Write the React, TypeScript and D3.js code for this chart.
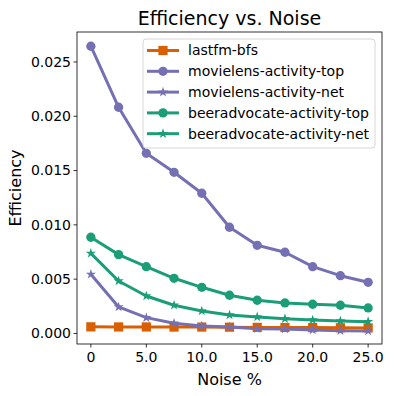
import React from 'react';
import * as d3 from 'd3';

const noise = [0, 2.5, 5, 7.5, 10, 12.5, 15, 17.5, 20, 22.5, 25];

const lastfmBfs = [0.00061, 0.0006, 0.0006, 0.00059, 0.00059, 0.00058, 0.00056, 0.00055, 0.00054, 0.00052, 0.00051];
const movielensTop = [0.02645, 0.02083, 0.01659, 0.01484, 0.01291, 0.00978, 0.00812, 0.00748, 0.00615, 0.00532, 0.00471];
const movielensNet = [0.00545, 0.00244, 0.00146, 0.00094, 0.00069, 0.0006, 0.00044, 0.00041, 0.00032, 0.00026, 0.00023];
const beerTop = [0.00886, 0.00726, 0.00615, 0.00508, 0.00425, 0.00352, 0.00306, 0.00281, 0.00269, 0.0026, 0.00235];
const beerNet = [0.00738, 0.00483, 0.00345, 0.0026, 0.00207, 0.0017, 0.00152, 0.00136, 0.00124, 0.00115, 0.00109];

const xTicks = [0, 5, 10, 15, 20, 25];
const xTickLabels = ['0', '5.0', '10.0', '15.0', '20.0', '25.0'];
const yTicks = [0, 0.005, 0.01, 0.015, 0.02, 0.025];

const series = [
  { name: 'lastfm-bfs', values: lastfmBfs, color: '#d95f02', marker: 'square' },
  { name: 'movielens-activity-top', values: movielensTop, color: '#7570b3', marker: 'circle' },
  { name: 'movielens-activity-net', values: movielensNet, color: '#7570b3', marker: 'star' },
  { name: 'beeradvocate-activity-top', values: beerTop, color: '#1b9e77', marker: 'circle' },
  { name: 'beeradvocate-activity-net', values: beerNet, color: '#1b9e77', marker: 'star' },
];

const font = 'DejaVu Sans, sans-serif';

const symbolPath = (m: string) => {
  if (m === 'square') return d3.symbol(d3.symbolSquare, 85)();
  if (m === 'star') return d3.symbol(d3.symbolStar, 32)();
  return d3.symbol(d3.symbolCircle, 68)();
};

export default function App() {
  const width = 396;
  const height = 396;
  const margin = { top: 32, right: 14, bottom: 52, left: 77 };
  const innerW = width - margin.left - margin.right;
  const innerH = height - margin.top - margin.bottom;

  const x = d3.scaleLinear().domain([-1.25, 26.25]).range([0, innerW]);
  const y = d3.scaleLinear().domain([-0.00097, 0.02776]).range([innerH, 0]);

  const line = d3.line<number>()
    .x((_, i) => x(noise[i]))
    .y((d) => y(d));

  return (
    <svg width={width} height={height} style={{ position: 'absolute', left: 0, top: 0 }}>
      <rect width={width} height={height} fill="white" />
      <text x={margin.left + innerW / 2} y={25} textAnchor="middle" fontFamily={font} fontSize={19}>
        Efficiency vs. Noise
      </text>
      <g transform={`translate(${margin.left},${margin.top})`}>
        {series.map((s) => (
          <g key={s.name}>
            <path d={line(s.values) || ''} fill="none" stroke={s.color} strokeWidth={3} strokeLinejoin="round" />
            {s.values.map((v, i) => (
              <path key={i} d={symbolPath(s.marker) || ''} transform={`translate(${x(noise[i])},${y(v)})`} fill={s.color} />
            ))}
          </g>
        ))}
        <rect x={0} y={0} width={innerW} height={innerH} fill="none" stroke="black" strokeWidth={0.8} />
        {xTicks.map((t, i) => (
          <g key={t} transform={`translate(${x(t)},${innerH})`}>
            <line y2={3.5} stroke="black" strokeWidth={0.8} />
            <text y={18} textAnchor="middle" fontFamily={font} fontSize={14}>{xTickLabels[i]}</text>
          </g>
        ))}
        {yTicks.map((t) => (
          <g key={t} transform={`translate(0,${y(t)})`}>
            <line x2={-3.5} stroke="black" strokeWidth={0.8} />
            <text x={-6} dy="0.35em" textAnchor="end" fontFamily={font} fontSize={14}>{d3.format('.3f')(t)}</text>
          </g>
        ))}
        <text x={innerW / 2} y={innerH + 41} textAnchor="middle" fontFamily={font} fontSize={16}>Noise %</text>
        <text transform={`translate(${-56},${innerH / 2}) rotate(-90)`} textAnchor="middle" fontFamily={font} fontSize={16}>Efficiency</text>
        <g transform={`translate(${66},${7})`}>
          <rect x={0} y={0} width={232} height={109} rx={3} fill="white" fillOpacity={0.8} stroke="#cccccc" strokeWidth={0.8} />
          {series.map((s, i) => (
            <g key={s.name} transform={`translate(0,${11.5 + i * 20.8})`}>
              <line x1={4} x2={36} stroke={s.color} strokeWidth={3} />
              <path d={symbolPath(s.marker) || ''} transform="translate(20,0)" fill={s.color} />
              <text x={45} dy="0.35em" fontFamily={font} fontSize={14}>{s.name}</text>
            </g>
          ))}
        </g>
      </g>
    </svg>
  );
}
